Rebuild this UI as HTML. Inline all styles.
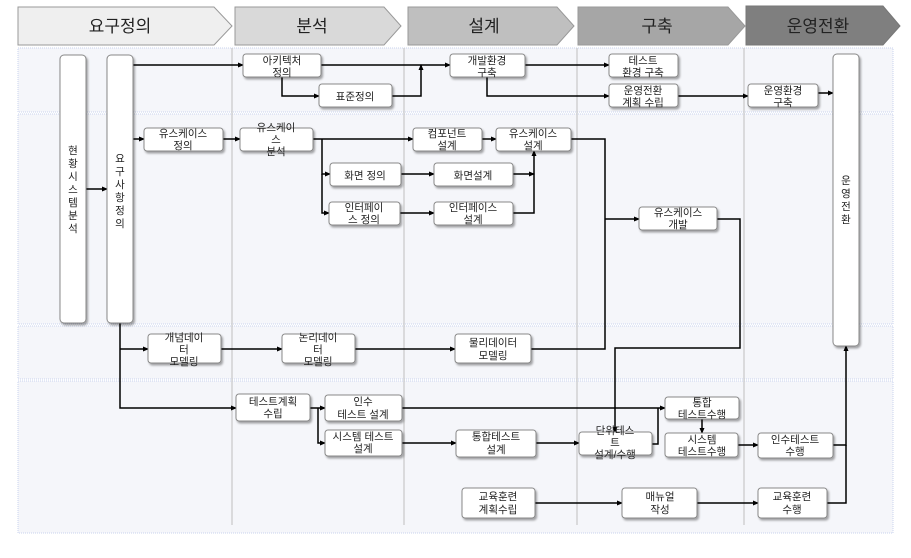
<!DOCTYPE html>
<html><head><meta charset="utf-8"><style>
body{margin:0;background:#fff;}
svg text{font-family:"Liberation Sans","Noto Sans CJK KR",sans-serif;fill:#222;}
</style></head><body>
<svg width="911" height="553" xmlns="http://www.w3.org/2000/svg">
<defs>
<marker id="a" markerWidth="6" markerHeight="6" refX="5" refY="3" orient="auto" markerUnits="userSpaceOnUse"><path d="M0,0.5 L6,3 L0,5.5z" fill="#000"/></marker>
<filter id="s" x="-20%" y="-20%" width="140%" height="160%"><feDropShadow dx="1.5" dy="2" stdDeviation="1" flood-color="#000" flood-opacity="0.35"/></filter>
</defs>
<!-- headers -->
<polygon points="18,7 214,7 232,26 214,45 18,45" fill="#efefef" stroke="#999"/>
<polygon points="235,7 384,7 401,26 384,45 235,45" fill="#d9d9d9" stroke="#999"/>
<polygon points="408,7 557,7 574,26 557,45 408,45" fill="#bfbfbf" stroke="#999"/>
<polygon points="578,7 728,7 745,26 728,45 578,45" fill="#a6a6a6" stroke="#999"/>
<polygon points="746,6 883,6 900,26 883,45 746,45" fill="#7f7f7f" stroke="#777"/>
<g font-size="17" text-anchor="middle">
<text x="120" y="32">요구정의</text><text x="312" y="32">분석</text><text x="484" y="32">설계</text><text x="657" y="32">구축</text><text x="818" y="32">운영전환</text>
</g>
<!-- lanes -->
<g fill="#f5f6fa" stroke="#c9d3ee" stroke-dasharray="1,1">
<rect x="18" y="48" width="875" height="64"/>
<rect x="18" y="114" width="875" height="210"/>
<rect x="18" y="326" width="875" height="53"/>
<rect x="18" y="381" width="875" height="152"/>
</g>
<g stroke="#c8c8c8" stroke-width="1.2">
<line x1="232" y1="48" x2="232" y2="525"/><line x1="404" y1="48" x2="404" y2="525"/><line x1="577" y1="48" x2="577" y2="525"/><line x1="744" y1="48" x2="744" y2="525"/>
</g>
<!-- connectors -->
<g stroke="#000" stroke-width="1.5" fill="none" marker-end="url(#a)">
<path d="M133,65H243"/><path d="M321,65H450"/><path d="M392,96H421V65"/><path d="M282,77V96H319"/>
<path d="M525,65H609"/><path d="M487,77V96H609"/><path d="M678,96H748"/><path d="M818,93H833"/>
<path d="M86,189H107"/><path d="M133,139H144"/><path d="M223,139H240"/><path d="M313,139H413"/>
<path d="M322,139V174H330"/><path d="M322,174V213H329"/>
<path d="M401,174H434"/><path d="M400,213H434"/><path d="M482,139H496"/>
<path d="M513,174H534"/><path d="M513,213H534V151"/>
<path d="M571,139H605V349H531" marker-end="none"/><path d="M605,219H639"/>
<path d="M717,219H740V348H615V432"/>
<path d="M120,323V408H236"/><path d="M120,349H148"/>
<path d="M221,349H282"/><path d="M355,349H455"/>
<path d="M310,408H325"/><path d="M318,408V443H325"/>
<path d="M402,408H665"/><path d="M652,444H658V408" marker-end="none"/>
<path d="M402,443H456"/><path d="M536,443H579"/><path d="M702,419V433"/><path d="M738,445H758"/>
<path d="M833,445H846V346"/><path d="M827,503H846V445" marker-end="none"/>
<path d="M535,503H622"/><path d="M697,503H758"/>
</g>
<!-- nodes -->
<g fill="#fff" stroke="#888" stroke-width="1" filter="url(#s)">
<rect x="60" y="55" width="26" height="268" rx="4"/>
<rect x="107" y="55" width="26" height="268" rx="4"/>
<rect x="833" y="54" width="26" height="292" rx="4"/>
<rect x="243" y="54" width="78" height="23" rx="3"/>
<rect x="319" y="84" width="73" height="23" rx="3"/>
<rect x="450" y="54" width="75" height="23" rx="3"/>
<rect x="609" y="54" width="69" height="23" rx="3"/>
<rect x="609" y="84" width="69" height="23" rx="3"/>
<rect x="748" y="84" width="70" height="23" rx="3"/>
<rect x="144" y="128" width="79" height="23" rx="3"/>
<rect x="240" y="128" width="73" height="23" rx="3"/>
<rect x="330" y="163" width="71" height="23" rx="3"/>
<rect x="329" y="202" width="71" height="23" rx="3"/>
<rect x="413" y="128" width="69" height="23" rx="3"/>
<rect x="496" y="128" width="75" height="23" rx="3"/>
<rect x="434" y="163" width="79" height="23" rx="3"/>
<rect x="434" y="202" width="79" height="23" rx="3"/>
<rect x="639" y="207" width="78" height="23" rx="3"/>
<rect x="148" y="334" width="73" height="29" rx="3"/>
<rect x="282" y="334" width="73" height="29" rx="3"/>
<rect x="455" y="334" width="76" height="29" rx="3"/>
<rect x="236" y="394" width="74" height="27" rx="3"/>
<rect x="325" y="395" width="77" height="26" rx="3"/>
<rect x="325" y="430" width="77" height="26" rx="3"/>
<rect x="456" y="430" width="80" height="27" rx="3"/>
<rect x="579" y="432" width="73" height="23" rx="3"/>
<rect x="665" y="397" width="74" height="22" rx="3"/>
<rect x="665" y="433" width="73" height="24" rx="3"/>
<rect x="758" y="433" width="75" height="25" rx="3"/>
<rect x="462" y="488" width="73" height="30" rx="3"/>
<rect x="622" y="488" width="75" height="30" rx="3"/>
<rect x="758" y="488" width="69" height="30" rx="3"/>
</g>
<!-- labels -->
<g font-size="10.5" text-anchor="middle">
<g font-size="10.5">
<text x="73" y="154">현</text><text x="73" y="167">황</text><text x="73" y="180">시</text><text x="73" y="193">스</text><text x="73" y="206">템</text><text x="73" y="219">분</text><text x="73" y="232">석</text>
<text x="120" y="162">요</text><text x="120" y="175">구</text><text x="120" y="188">사</text><text x="120" y="201">항</text><text x="120" y="214">정</text><text x="120" y="227">의</text>
<text x="846" y="184">운</text><text x="846" y="197">영</text><text x="846" y="210">전</text><text x="846" y="223">환</text>
</g>
<text x="282" y="64">아키텍처</text><text x="282" y="76">정의</text>
<text x="355" y="100">표준정의</text>
<text x="487" y="64">개발환경</text><text x="487" y="76">구축</text>
<text x="643" y="64">테스트</text><text x="643" y="76">환경 구축</text>
<text x="643" y="94">운영전환</text><text x="643" y="106">계획 수립</text>
<text x="783" y="94">운영환경</text><text x="783" y="106">구축</text>
<text x="183" y="137">유스케이스</text><text x="183" y="149">정의</text>
<text x="276" y="131">유스케이</text><text x="276" y="143">스</text><text x="276" y="155">분석</text>
<text x="365" y="179">화면 정의</text>
<text x="364" y="211">인터페이</text><text x="364" y="223">스 정의</text>
<text x="447" y="137">컴포넌트</text><text x="447" y="149">설계</text>
<text x="533" y="137">유스케이스</text><text x="533" y="149">설계</text>
<text x="473" y="179">화면설계</text>
<text x="473" y="211">인터페이스</text><text x="473" y="223">설계</text>
<text x="678" y="216">유스케이스</text><text x="678" y="228">개발</text>
<text x="184" y="341">개념데이</text><text x="184" y="353">터</text><text x="184" y="365">모델링</text>
<text x="318" y="341">논리데이</text><text x="318" y="353">터</text><text x="318" y="365">모델링</text>
<text x="493" y="346">물리데이터</text><text x="493" y="359">모델링</text>
<text x="273" y="405">테스트계획</text><text x="273" y="417">수립</text>
<text x="363" y="405">인수</text><text x="363" y="418">테스트 설계</text>
<text x="363" y="440">시스템 테스트</text><text x="363" y="452">설계</text>
<text x="496" y="440">통합테스트</text><text x="496" y="453">설계</text>
<text x="615" y="434">단위테스</text><text x="615" y="446">트</text><text x="615" y="458">설계/수행</text>
<text x="702" y="406">통합</text><text x="702" y="418">테스트수행</text>
<text x="702" y="443">시스템</text><text x="702" y="455">테스트수행</text>
<text x="795" y="443">인수테스트</text><text x="795" y="455">수행</text>
<text x="498" y="500">교육훈련</text><text x="498" y="513">계획수립</text>
<text x="660" y="500">매뉴얼</text><text x="660" y="513">작성</text>
<text x="792" y="500">교육훈련</text><text x="792" y="513">수행</text>
</g>
</svg>
</body></html>
